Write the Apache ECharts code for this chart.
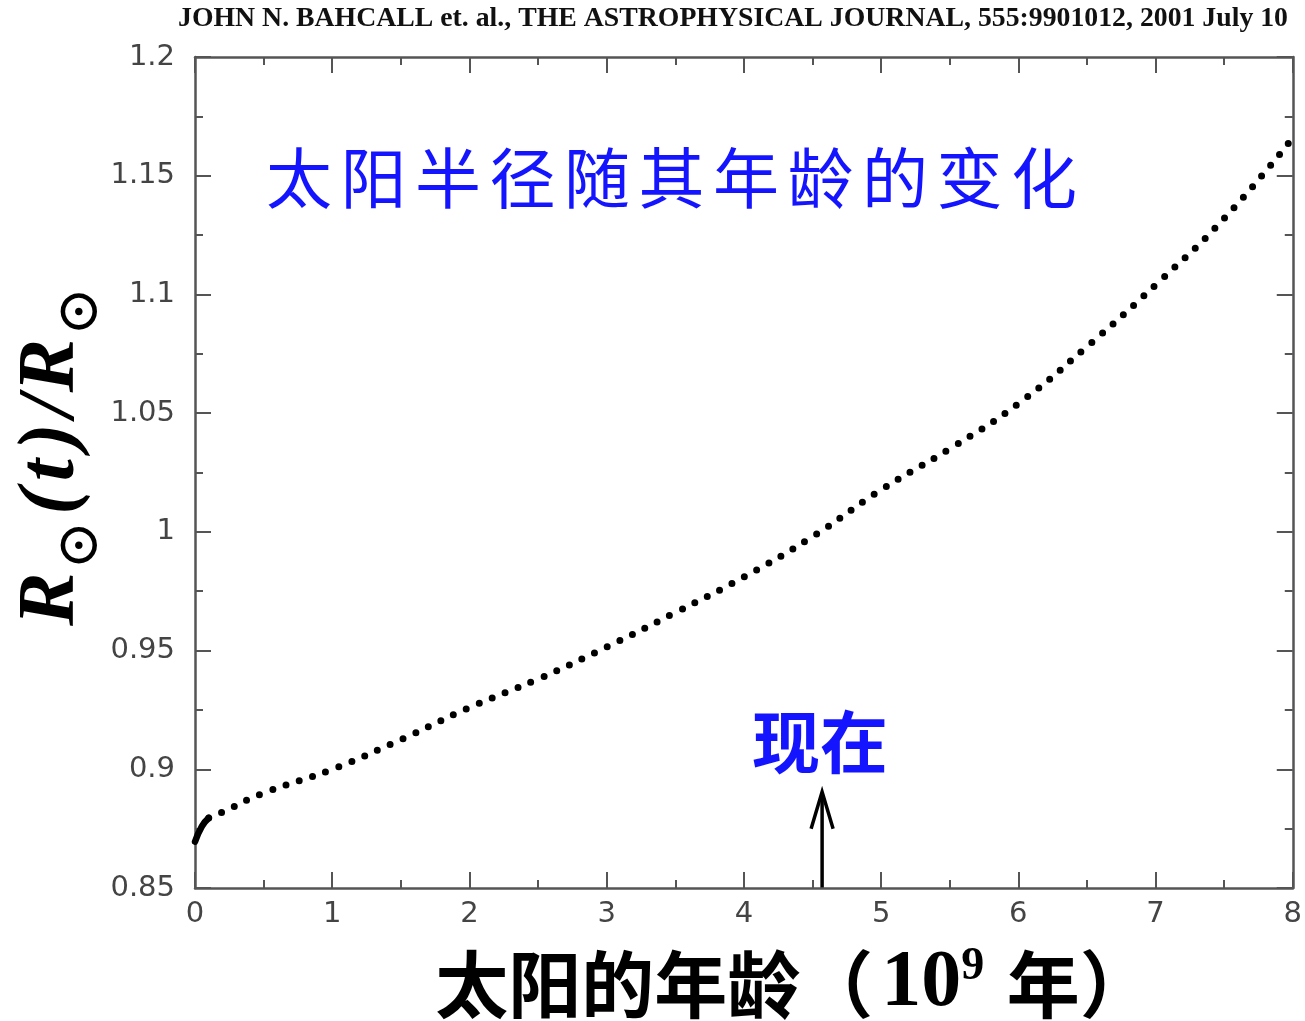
<!DOCTYPE html>
<html>
<head>
<meta charset="utf-8">
<script src="https://cdn.jsdelivr.net/npm/echarts@6/dist/echarts.min.js"></script>
<style>
  html, body { margin: 0; padding: 0; background: #fff; }
  #chart { width: 1305px; height: 1021px; }
</style>
</head>
<body>
<div id="chart"></div>
<script>
// Solar radius relative to today's value, as a function of the Sun's age (Gyr)
const ageGyr = [0, 0.05, 0.1, 0.2, 0.5, 1, 1.5, 2, 2.5, 3, 3.5, 4, 4.5, 5, 5.5, 6, 6.5, 7, 7.5, 8];
const radiusRatio = [0.8695, 0.876, 0.8795, 0.882, 0.890, 0.900, 0.9125, 0.926, 0.938, 0.9515,
                     0.966, 0.981, 0.998, 1.0177, 1.035, 1.054, 1.078, 1.104, 1.132, 1.166];
// the first few points are sampled so densely that they merge into a solid stroke
const denseCount = 3;

const xTicks = [0, 1, 2, 3, 4, 5, 6, 7, 8];
const yTicks = [0.85, 0.9, 0.95, 1, 1.05, 1.1, 1.15, 1.2];

// present-day Sun
const presentAge = 4.57;
const arrowTopRadius = 0.8905;

const headerText = 'JOHN N. BAHCALL et. al., THE ASTROPHYSICAL JOURNAL, 555:9901012, 2001 July 10';
const plotTitle = '太阳半径随其年龄的变化';
const nowLabel = '现在';

const FRAME = '#555';
const tickLabel = { fontFamily: 'DejaVu Sans', fontSize: 29, color: '#444' };

const points = ageGyr.map((a, i) => [a, radiusRatio[i]]);

function xAxisDef(position, showLabels) {
  return {
    type: 'value', position, min: xTicks[0], max: xTicks[xTicks.length - 1], interval: 1,
    axisLine: { show: true, onZero: false, lineStyle: { color: FRAME, width: 2.5 } },
    axisTick: { show: true, inside: true, length: 16, lineStyle: { color: FRAME, width: 2 } },
    minorTick: { show: true, splitNumber: 2, length: 8, lineStyle: { color: FRAME, width: 2 } },
    splitLine: { show: false },
    axisLabel: Object.assign({ show: showLabels, margin: 12 }, tickLabel)
  };
}
function yAxisDef(position, showLabels) {
  return {
    type: 'value', position, min: yTicks[0], max: yTicks[yTicks.length - 1], interval: 0.05,
    axisLine: { show: true, onZero: false, lineStyle: { color: FRAME, width: 2.5 } },
    axisTick: { show: true, inside: true, length: 16, lineStyle: { color: FRAME, width: 2 } },
    minorTick: { show: true, splitNumber: 2, length: 8, lineStyle: { color: FRAME, width: 2 } },
    splitLine: { show: false },
    axisLabel: Object.assign({ show: showLabels, margin: 20 }, tickLabel)
  };
}

const chart = echarts.init(document.getElementById('chart'), null, { renderer: 'canvas' });

chart.setOption({
  animation: false,
  backgroundColor: '#fff',
  grid: { left: 195, right: 12, top: 57, bottom: 133, containLabel: false },
  xAxis: [xAxisDef('bottom', true), xAxisDef('top', false)],
  yAxis: [yAxisDef('left', true), yAxisDef('right', false)],
  series: [
    {
      type: 'line', xAxisIndex: 0, yAxisIndex: 0,
      data: points.slice(0, denseCount),
      showSymbol: false, smooth: true,
      lineStyle: { color: '#000', width: 6.5, cap: 'round' }
    },
    {
      type: 'line', xAxisIndex: 0, yAxisIndex: 0,
      data: points.slice(denseCount - 1),
      showSymbol: false, smooth: 0.5,
      lineStyle: { color: '#000', width: 7, type: [0, 14], cap: 'round' }
    }
  ]
});

// text measuring for fitting the header
const mctx = document.createElement('canvas').getContext('2d');
function textWidth(font, s) { mctx.font = font; return mctx.measureText(s).width; }

const headerFont = 'bold 28px "Liberation Serif"';
const headerScale = 1110 / textWidth(headerFont, headerText);

const tip = chart.convertToPixel({ xAxisIndex: 0, yAxisIndex: 0 }, [presentAge, arrowTopRadius]);
const base = chart.convertToPixel({ xAxisIndex: 0, yAxisIndex: 0 }, [presentAge, yTicks[0]]);

// in-plot title, one glyph at a time with even spacing
const titleChars = Array.from(plotTitle);
const titleStart = 299, titleStep = 74.5;
const titleGlyphs = titleChars.map((ch, i) => ({
  type: 'text', x: titleStart + i * titleStep, y: 178, silent: true,
  style: {
    text: ch, fill: '#1414ff', align: 'center', verticalAlign: 'middle',
    font: '400 66px "Noto Sans CJK SC"'
  }
}));

const serifBI = { fontFamily: 'Liberation Serif', fontWeight: 'bold', fontStyle: 'italic', fontSize: 80, lineHeight: 82, verticalAlign: 'top', fill: '#000' };

chart.setOption({
  graphic: [
    {
      type: 'text', x: 733, y: 19, scaleX: headerScale, silent: true,
      style: { text: headerText, font: headerFont, fill: '#111', align: 'center', verticalAlign: 'middle' }
    },
    ...titleGlyphs,
    {
      type: 'text', x: tip[0] - 2, y: tip[1] - 50, silent: true,
      style: {
        text: nowLabel, fill: '#1414ff', align: 'center', verticalAlign: 'middle',
        font: 'bold 68px "Noto Sans CJK SC"'
      }
    },
    {
      type: 'polyline', silent: true,
      shape: { points: [[base[0], base[1]], [tip[0], tip[1] + 2]] },
      style: { stroke: '#000', lineWidth: 3.5, fill: null }
    },
    {
      type: 'polyline', silent: true,
      shape: { points: [[tip[0] - 11, tip[1] + 37], [tip[0], tip[1]], [tip[0] + 11, tip[1] + 37]] },
      style: { stroke: '#000', lineWidth: 3.5, fill: null, lineJoin: 'miter' }
    },
    // y-axis title: R⊙(t)/R⊙
    {
      type: 'text', x: 53, y: 455, rotation: Math.PI / 2, silent: true,
      style: {
        text: '{r|R}{s|⊙}{p|(}{t|t}{p|)}{q|/}{r|R}{s|⊙}',
        align: 'center', verticalAlign: 'middle', fill: '#000',
        rich: {
          r: serifBI,
          p: Object.assign({}, serifBI, { padding: [0, 3, 0, 3] }),
          q: Object.assign({}, serifBI, { padding: [0, 3, 0, 3] }),
          t: Object.assign({}, serifBI, { padding: [0, 6, 0, 4] }),
          s: { fontFamily: 'DejaVu Serif', fontSize: 58, lineHeight: 58, verticalAlign: 'top', fill: '#000', padding: [41, 3, 0, 3] }
        }
      }
    },
    // x-axis title: 太阳的年龄（10⁹ 年）
    {
      type: 'text', x: 794, y: 984, silent: true,
      style: {
        text: '{c|太阳的年龄（}{n|10}{p|9}{c| 年）}',
        align: 'center', verticalAlign: 'middle', fill: '#000',
        rich: {
          c: { fontFamily: 'Noto Sans CJK SC', fontWeight: 'bold', fontSize: 73, lineHeight: 80, verticalAlign: 'middle', fill: '#000' },
          n: { fontFamily: 'Liberation Serif', fontWeight: 'bold', fontSize: 80, lineHeight: 80, verticalAlign: 'middle', fill: '#000', padding: [0, 0, 0, 8] },
          p: { fontFamily: 'Liberation Serif', fontWeight: 'bold', fontSize: 46, lineHeight: 46, verticalAlign: 'top', fill: '#000', padding: [0, 6, 0, 0] }
        }
      }
    }
  ]
});
</script>
</body>
</html>
